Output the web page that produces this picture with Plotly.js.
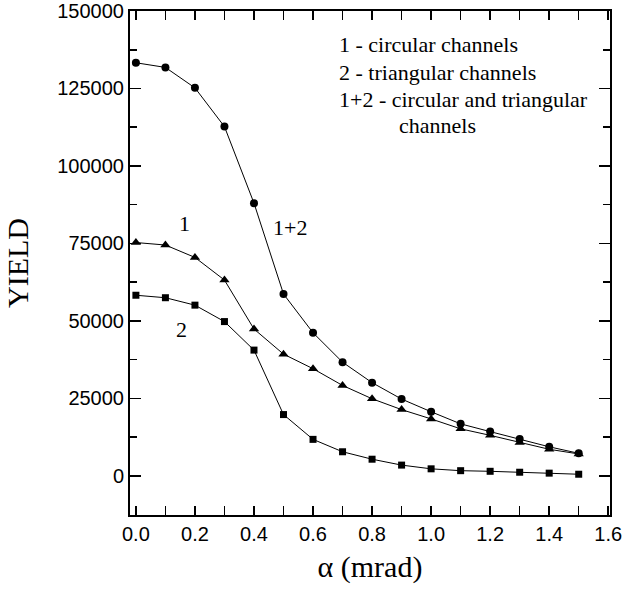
<!DOCTYPE html>
<html>
<head>
<meta charset="utf-8">
<script src="https://cdn.plot.ly/plotly-3.0.1.min.js"></script>
<style>html,body{margin:0;padding:0;background:#fff;}#chart{width:624px;height:597px;}</style>
</head>
<body>
<div id="chart"></div>
<script>
const alpha = [0.0,0.1,0.2,0.3,0.4,0.5,0.6,0.7,0.8,0.9,1.0,1.1,1.2,1.3,1.4,1.5];
const yieldCircTri = [133300,131800,125200,112700,88000,58700,46200,36700,30100,24800,20700,16800,14300,11900,9400,7300];
const yieldCirc = [75300,74500,70500,63200,47400,39300,34600,29200,24900,21400,18400,15200,13100,10800,8600,7100];
const yieldTri = [58300,57500,55100,49800,40600,19800,11800,7800,5400,3500,2300,1700,1500,1200,900,550];
const yTickVals = [0,25000,50000,75000,100000,125000,150000];
const yTickText = ['0','25000','50000','75000','100000','125000','150000'];
const xTickVals = [0.0,0.2,0.4,0.6,0.8,1.0,1.2,1.4,1.6];
const xTickText = ['0.0','0.2','0.4','0.6','0.8','1.0','1.2','1.4','1.6'];
const curveLabels = [
  {text:'1', x:0.166, y:81300},
  {text:'1+2', x:0.522, y:80300},
  {text:'2', x:0.156, y:47100}
];
const legendLines = ['1 - circular channels','2 - triangular channels','1+2 - circular and triangular','channels'];

const lineStyle = {color:'#000', width:1};
const traces = [
  {x:alpha, y:yieldCircTri, mode:'lines+markers', line:lineStyle, marker:{symbol:'circle', size:8, color:'#000'}},
  {x:alpha, y:yieldCirc, mode:'lines+markers', line:lineStyle, marker:{symbol:'triangle-up', size:9, color:'#000'}},
  {x:alpha, y:yieldTri, mode:'lines+markers', line:lineStyle, marker:{symbol:'square', size:7, color:'#000'}}
];

const serif = '"Liberation Serif", "Times New Roman", serif';
const sans = '"Liberation Sans", Arial, sans-serif';
const annotations = curveLabels.map(c => ({
  x:c.x, y:c.y, xref:'x', yref:'y', text:c.text, showarrow:false,
  font:{family:serif, size:22, color:'#000'}
}));
const legendY = [45, 72, 99, 126];
const legendX = [337, 337, 337, 397];
legendLines.forEach((t,i) => {
  annotations.push({
    x:(legendX[i]-130)/480, y:1-(legendY[i]-11)/504, xref:'paper', yref:'paper',
    xanchor:'left', yanchor:'middle', text:t, showarrow:false,
    font:{family:serif, size:22, color:'#000'}
  });
});

const layout = {
  width:624, height:597,
  margin:{l:130, r:14, t:11, b:82},
  paper_bgcolor:'#fff', plot_bgcolor:'#fff',
  showlegend:false,
  font:{family:sans, size:20, color:'#000'},
  xaxis:{
    range:[-0.02,1.606], tickvals:xTickVals, ticktext:xTickText,
    ticks:'inside', ticklen:9, tickwidth:1.5, tickcolor:'#000',
    minor:{dtick:0.1, tick0:0, ticks:'inside', ticklen:9, tickwidth:1.5, tickcolor:'#000'},
    showline:true, linecolor:'#000', linewidth:2, mirror:'ticks',
    showgrid:false, zeroline:false, ticklabelstandoff:0,
    tickfont:{family:sans, size:20},
    title:{text:'α (mrad)', font:{family:serif, size:30}, standoff:12}
  },
  yaxis:{
    range:[-12600,150000], tickvals:yTickVals, ticktext:yTickText,
    ticks:'inside', ticklen:11, tickwidth:1.5, tickcolor:'#000',
    minor:{dtick:12500, tick0:0, ticks:'inside', ticklen:7, tickwidth:1.5, tickcolor:'#000'},
    showline:true, linecolor:'#000', linewidth:2, mirror:'ticks',
    showgrid:false, zeroline:false, ticklabelstandoff:0,
    tickfont:{family:sans, size:20},
    title:{text:'YIELD', font:{family:serif, size:30}, standoff:20}
  },
  annotations:annotations
};
Plotly.newPlot('chart', traces, layout, {displayModeBar:false, staticPlot:true});
</script>
</body>
</html>
